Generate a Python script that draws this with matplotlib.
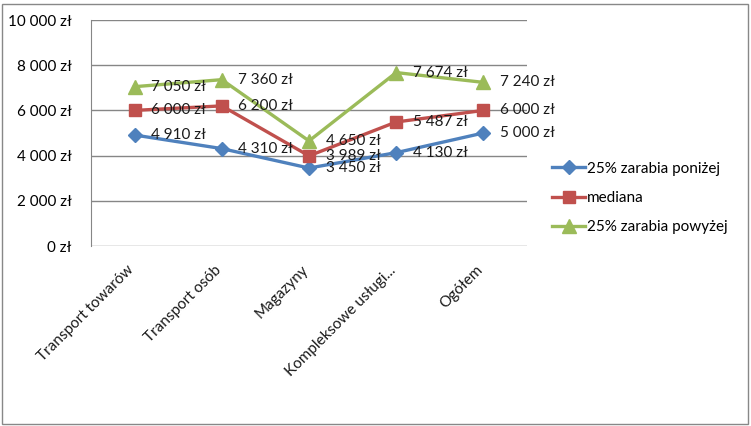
import matplotlib
matplotlib.use("Agg")
import matplotlib.pyplot as plt
from matplotlib.patches import Rectangle

plt.rcParams['font.family'] = ['Lato', 'DejaVu Sans']

categories = ["Transport towarów", "Transport osób", "Magazyny", "Kompleksowe usługi...", "Ogółem"]
ponizej = [4910, 4310, 3450, 4130, 5000]
mediana = [6000, 6200, 3989, 5487, 6000]
powyzej = [7050, 7360, 4650, 7674, 7240]
series_names = ["25% zarabia poniżej", "mediana", "25% zarabia powyżej"]
yticks = [0, 2000, 4000, 6000, 8000, 10000]


def zl(v):
    return f"{v:,.0f}".replace(",", " ") + " zł"


fig = plt.figure(figsize=(7.51, 4.26), dpi=100)
# plot area in pixels: x 91..527, y 20..246
ax = fig.add_axes([91 / 751, 1 - 246 / 426, 436 / 751, 226 / 426])

x = list(range(len(categories)))
styles = [
    (ponizej, "#4F81BD", "D", 7),
    (mediana, "#C0504D", "s", 9),
    (powyzej, "#9BBB59", "^", 10),
]
for (vals, col, mk, ms), name in zip(styles, series_names):
    ax.plot(x, vals, color=col, lw=2.4, marker=mk, ms=ms, label=name, zorder=3)
    for xi, v in zip(x, vals):
        ax.annotate(zl(v), (xi, v), xytext=(12, 0), textcoords="offset points",
                    ha="left", va="center", fontsize=11, color="#1a1a1a", zorder=4)

ax.set_xlim(-0.5, len(categories) - 0.5)
ax.set_ylim(0, 10000)
ax.set_yticks(yticks)
ax.set_yticklabels([zl(v) for v in yticks], fontsize=11)
ax.set_xticks(x)
ax.set_xticklabels([])
# category labels drawn by hand so the rotated text sits like Excel's
for xi, cat in zip(x, categories):
    ax.annotate(cat, (xi, 0), xycoords=("data", "axes fraction"),
                xytext=(-3, -22), textcoords="offset pixels",
                rotation=45, rotation_mode="anchor", ha="right", va="center",
                fontsize=11, color="#1a1a1a", annotation_clip=False)
ax.tick_params(length=0)
ax.tick_params(axis="y", pad=14)
ax.grid(axis="y", color="#868686", lw=1)
ax.set_axisbelow(True)
for s in ["top", "right", "bottom"]:
    ax.spines[s].set_visible(False)
ax.spines["left"].set_color("#868686")

leg = fig.legend(loc="upper left", bbox_to_anchor=(538 / 751, 1 - 148 / 426), frameon=False,
                 fontsize=11, handlelength=2.2, handletextpad=0.1, labelspacing=1.0)

fig.patches.append(Rectangle((2 / 751, 2 / 426), 746 / 751, 420 / 426, transform=fig.transFigure,
                             fill=False, edgecolor="#888888", lw=1))

fig.savefig("out.png", dpi=100)
